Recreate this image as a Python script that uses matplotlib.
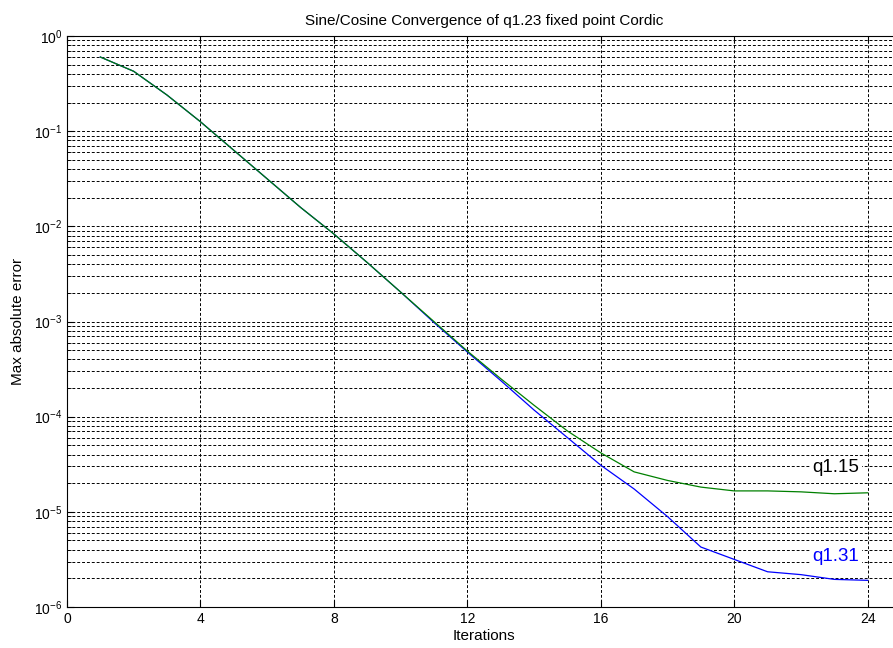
import numpy as np
import matplotlib.pyplot as plt
from matplotlib.ticker import LogLocator, NullFormatter

plt.rcParams['font.family'] = ['Liberation Sans', 'DejaVu Sans']

# Iteration index and max absolute error (log10 values)
iterations = np.arange(1, 25)
log_err_q115 = [-0.22, -0.37, -0.62, -0.90, -1.20, -1.50, -1.80, -2.08, -2.38, -2.69,
                -3.00, -3.31, -3.60, -3.88, -4.15, -4.38, -4.58, -4.67, -4.74, -4.78,
                -4.78, -4.79, -4.81, -4.80]
log_err_q131 = [-0.22, -0.37, -0.62, -0.90, -1.20, -1.50, -1.80, -2.08, -2.38, -2.69,
                -3.01, -3.32, -3.62, -3.93, -4.22, -4.51, -4.76, -5.05, -5.37, -5.50,
                -5.63, -5.66, -5.71, -5.72]
err_q115 = 10.0 ** np.array(log_err_q115)
err_q131 = 10.0 ** np.array(log_err_q131)

x_ticks = [0, 4, 8, 12, 16, 20, 24]

fig = plt.figure(figsize=(8.93, 6.48), dpi=100)
# axes runs off the right edge, like the cropped original
ax = fig.add_axes([0.075, 0.0633, 0.934, 0.881])

ax.semilogy(iterations, err_q131, color=(0, 0, 1), lw=0.9)
ax.semilogy(iterations, err_q115, color=(0, 0.5, 0), lw=0.9)

ax.set_xlim(0, 25)
ax.set_ylim(1e-6, 1)
ax.set_xticks(x_ticks)
ax.yaxis.set_major_locator(LogLocator(base=10, numticks=10))
ax.yaxis.set_minor_locator(LogLocator(base=10, subs=np.arange(2, 10), numticks=20))
ax.yaxis.set_minor_formatter(NullFormatter())

grid_kw = dict(color='black', linestyle=(0, (3, 2)), linewidth=0.7)
ax.grid(True, which='major', axis='both', **grid_kw)
ax.grid(True, which='minor', axis='y', **grid_kw)
ax.set_axisbelow(True)

ax.tick_params(which='both', direction='in', top=True, right=True, labelsize=10)
ax.tick_params(which='major', length=5)
ax.tick_params(which='minor', length=3)

ax.set_xlabel('Iterations', fontsize=11, labelpad=2)
ax.set_ylabel('Max absolute error', fontsize=11, labelpad=6)
ax.set_title('Sine/Cosine Convergence of q1.23 fixed point Cordic', fontsize=11, pad=8)

ax.text(23.05, 10 ** -4.53, 'q1.15', fontsize=13.5, color='black', ha='center', va='center',
        bbox=dict(facecolor='white', edgecolor='none', pad=2))
ax.text(23.05, 10 ** -5.47, 'q1.31', fontsize=13.5, color='blue', ha='center', va='center',
        bbox=dict(facecolor='white', edgecolor='none', pad=2))

fig.savefig('out.png', dpi=100)
